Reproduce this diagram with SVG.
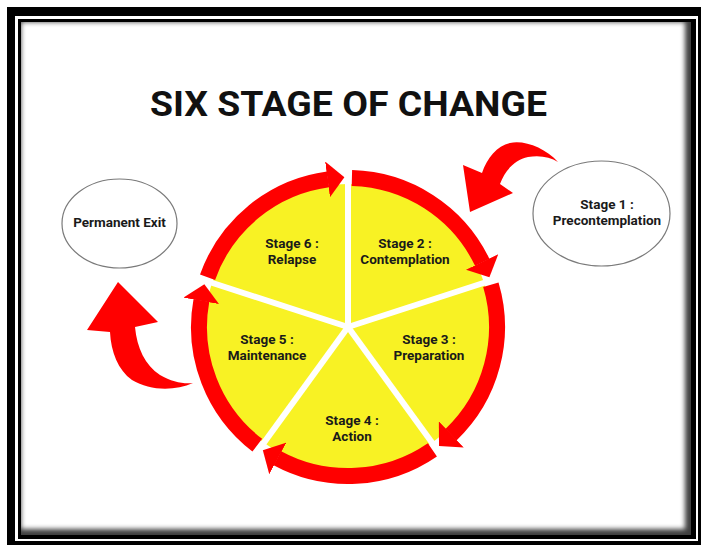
<svg xmlns="http://www.w3.org/2000/svg" width="701" height="545" viewBox="0 0 701 545">
  <style>
    .lbl { font-family: Roboto, "Liberation Sans", Arial, sans-serif; font-weight: bold; font-size: 13.5px; fill: #1a1a1a; text-anchor: middle; }
    .title { font-family: Roboto, "Liberation Sans", Arial, sans-serif; font-weight: bold; font-size: 35px; fill: #111; text-anchor: middle; }
    .wedge { fill: #F8F224; }
    .ring { fill: none; stroke: #FF0000; stroke-width: 16; marker-end: url(#head); }
    .div { stroke: #ffffff; stroke-width: 6; }
    .oval { fill: #ffffff; stroke: #7a7a7a; stroke-width: 1.2; }
    .big { fill: #FF0000; }
  </style>
  <defs>
    <marker id="head" markerUnits="userSpaceOnUse" markerWidth="18" markerHeight="36" viewBox="0 0 18 36" refX="0.5" refY="18" orient="auto">
      <path d="M0,0 L17,18 L0,36 Z" fill="#FF0000"/>
    </marker>
    <clipPath id="inner"><rect x="21" y="22" width="670" height="513"/></clipPath>
    <filter id="blur" x="-5%" y="-5%" width="110%" height="110%"><feGaussianBlur stdDeviation="2.5"/></filter>
  </defs>

  <g id="frame">
    <rect x="0" y="0" width="701" height="545" fill="#fff"/>
    <rect x="7" y="7" width="694" height="538" fill="#000"/>
    <rect x="15" y="16" width="683" height="525" fill="#fff"/>
    <rect x="18" y="19" width="678" height="520" fill="#000"/>
    <rect x="21" y="22" width="670" height="513" fill="#fff"/>
    <g clip-path="url(#inner)" opacity="0.75">
      <path d="M0,0 H701 V545 H0 Z M21,22 V529 H685 V22 Z" fill="#000" fill-rule="evenodd" filter="url(#blur)"/>
    </g>
  </g>

  <g id="title">
    <text class="title" x="348.5" y="116" textLength="397" lengthAdjust="spacingAndGlyphs">SIX STAGE OF CHANGE</text>
  </g>

  <g id="stage2">
    <path class="wedge" d="M348,327 L348,184 A143,143 0 0 1 484,282.81 Z"/>
    <text class="lbl" x="405" y="248">Stage 2 :</text>
    <text class="lbl" x="405" y="264">Contemplation</text>
  </g>
  <g id="stage3">
    <path class="wedge" d="M348,327 L484,282.81 A143,143 0 0 1 432.05,442.69 Z"/>
    <text class="lbl" x="429" y="344">Stage 3 :</text>
    <text class="lbl" x="429" y="360">Preparation</text>
  </g>
  <g id="stage4">
    <path class="wedge" d="M348,327 L432.05,442.69 A143,143 0 0 1 263.95,442.69 Z"/>
    <text class="lbl" x="352" y="425">Stage 4 :</text>
    <text class="lbl" x="352" y="441">Action</text>
  </g>
  <g id="stage5">
    <path class="wedge" d="M348,327 L263.95,442.69 A143,143 0 0 1 212,282.81 Z"/>
    <text class="lbl" x="267" y="344">Stage 5 :</text>
    <text class="lbl" x="267" y="360">Maintenance</text>
  </g>
  <g id="stage6">
    <path class="wedge" d="M348,327 L212,282.81 A143,143 0 0 1 348,184 Z"/>
    <text class="lbl" x="292" y="248">Stage 6 :</text>
    <text class="lbl" x="292" y="264">Relapse</text>
  </g>

  <g id="dividers">
    <line class="div" x1="348" y1="327" x2="348" y2="162"/>
    <line class="div" x1="348" y1="327" x2="504.92" y2="276.01"/>
    <line class="div" x1="348" y1="327" x2="444.99" y2="460.49"/>
    <line class="div" x1="348" y1="327" x2="251.01" y2="460.49"/>
    <line class="div" x1="348" y1="327" x2="191.08" y2="276.01"/>
  </g>

  <g id="stage1">
    <ellipse class="oval" cx="601.5" cy="213.5" rx="68.5" ry="52.5"/>
    <text class="lbl" x="607" y="209">Stage 1 :</text>
    <text class="lbl" x="607" y="225">Precontemplation</text>
  </g>
  <g id="exit">
    <ellipse class="oval" cx="119.5" cy="223.5" rx="57.5" ry="44.5"/>
    <text class="lbl" x="119.5" y="227">Permanent Exit</text>
  </g>

  <g id="connectors">
    <path class="ring" d="M351.90,178.05 A149,149 0 0 1 482.26,262.39"/>
    <path class="ring" d="M490.86,284.68 A149,149 0 0 1 450.94,434.72"/>
    <path class="ring" d="M432.40,449.80 A149,149 0 0 1 277.36,458.19"/>
    <path class="ring" d="M257.29,445.21 A149,149 0 0 1 201.40,300.36"/>
    <path class="ring" d="M207.55,277.26 A149,149 0 0 1 328.04,179.35"/>
    <path class="big" d="M558,162 C545,148 525,140 510,143 C497,146 487,158 482,173 L463,165 L470,212 L513,193 L500,184 C505,170 515,160 528,157 C540,155 550,157 558,162 Z"/>
    <path class="big" d="M193,383 C175,391 150,391 132,380 C118,370 111,352 110,332 L87,330 L118,282 L158,322 L135,327 C137,348 145,365 160,375 C172,382 183,384 193,383 Z"/>
  </g>
</svg>
